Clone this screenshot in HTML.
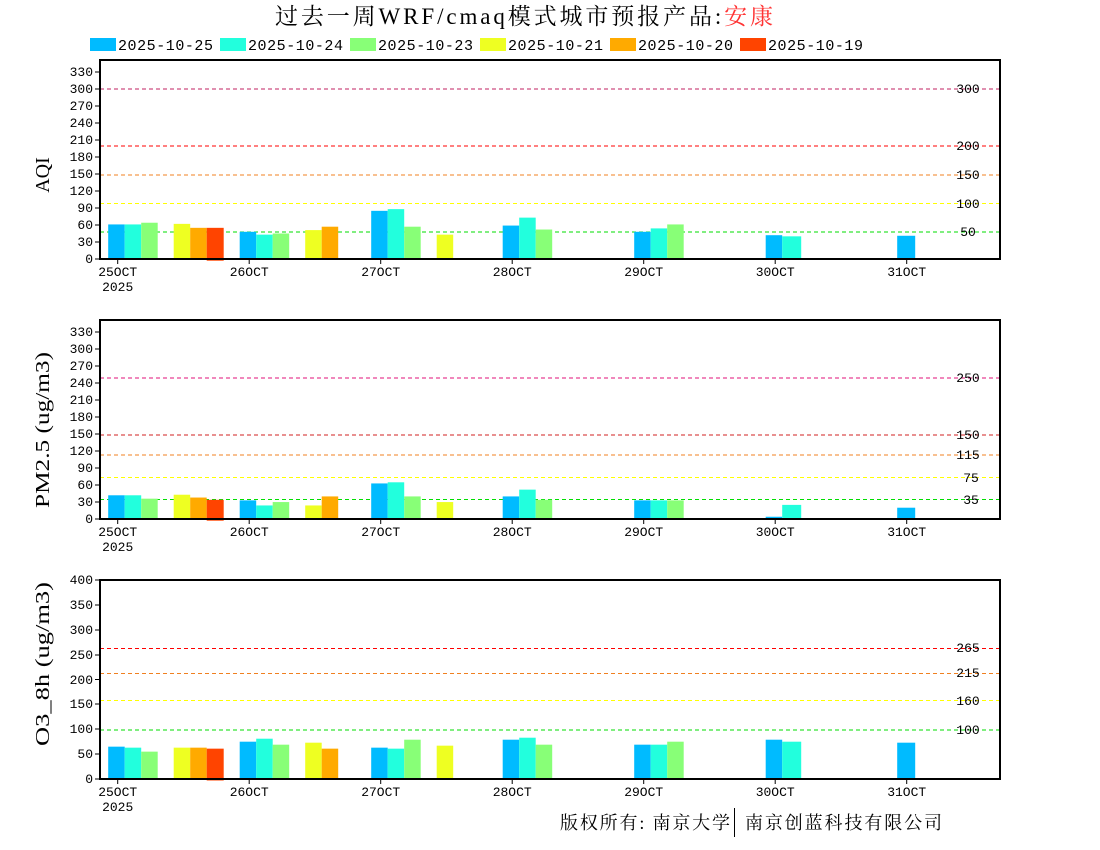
<!DOCTYPE html>
<html><head><meta charset="utf-8"><style>
html,body{margin:0;padding:0;background:#fff;width:1100px;height:850px;overflow:hidden}
svg{display:block}
.t{font-family:"Liberation Mono",monospace;font-size:13px;fill:#000}
.yl{font-family:"Liberation Serif",serif;font-size:20px;fill:#000}
.lg{font-family:"Liberation Mono",monospace;font-size:15px;fill:#000}
</style></head><body>
<svg width="1100" height="850" viewBox="0 0 1100 850" xmlns="http://www.w3.org/2000/svg">
<text x="275" y="24" textLength="498" lengthAdjust="spacing" font-family="Liberation Serif, Noto Serif CJK SC, serif" font-size="23" fill="#000">过去一周WRF/cmaq模式城市预报产品:<tspan fill="#ff3333">安康</tspan></text>
<g class="lg">
<rect x="90" y="38" width="26" height="13" fill="#00bbff"/><text x="118" y="50" textLength="95">2025-10-25</text>
<rect x="220" y="38" width="26" height="13" fill="#22ffdd"/><text x="248" y="50" textLength="95">2025-10-24</text>
<rect x="350" y="38" width="26" height="13" fill="#88ff77"/><text x="378" y="50" textLength="95">2025-10-23</text>
<rect x="480" y="38" width="26" height="13" fill="#eeff22"/><text x="508" y="50" textLength="95">2025-10-21</text>
<rect x="610" y="38" width="26" height="13" fill="#ffaa00"/><text x="638" y="50" textLength="95">2025-10-20</text>
<rect x="740" y="38" width="26" height="13" fill="#ff4400"/><text x="768" y="50" textLength="95">2025-10-19</text>
</g>

<!-- Panel 1 AQI -->
<g>
<g stroke-dasharray="4,3" stroke-width="1">
<line x1="100" x2="1000" y1="89" y2="89" stroke="#c02060"/>
<line x1="100" x2="1000" y1="146" y2="146" stroke="#ff0000"/>
<line x1="100" x2="1000" y1="175" y2="175" stroke="#f08020"/>
<line x1="100" x2="1000" y1="203.5" y2="203.5" stroke="#ffff00"/>
<line x1="100" x2="1000" y1="232" y2="232" stroke="#00dd00"/>
</g>
<g transform="translate(0,259) scale(1,-0.5667)">
<g transform="translate(117.7,0)"><rect x="-9.5" width="16.5" height="61" fill="#00bbff"/><rect x="7" width="16.5" height="61" fill="#22ffdd"/><rect x="23.5" width="16.5" height="64" fill="#88ff77"/><rect x="56" width="16.5" height="62" fill="#eeff22"/><rect x="72.5" width="16.5" height="55" fill="#ffaa00"/><rect x="89" y="-3" width="17" height="58" fill="#ff4400"/></g>
<g transform="translate(249.2,0)"><rect x="-9.5" width="16.5" height="48" fill="#00bbff"/><rect x="7" width="16.5" height="43" fill="#22ffdd"/><rect x="23.5" width="16.5" height="45" fill="#88ff77"/><rect x="56" width="16.5" height="51" fill="#eeff22"/><rect x="72.5" width="16.5" height="57" fill="#ffaa00"/></g>
<g transform="translate(380.7,0)"><rect x="-9.5" width="16.5" height="85" fill="#00bbff"/><rect x="7" width="16.5" height="88" fill="#22ffdd"/><rect x="23.5" width="16.5" height="57" fill="#88ff77"/><rect x="56" width="16.5" height="43" fill="#eeff22"/></g>
<g transform="translate(512.2,0)"><rect x="-9.5" width="16.5" height="59" fill="#00bbff"/><rect x="7" width="16.5" height="73" fill="#22ffdd"/><rect x="23.5" width="16.5" height="52" fill="#88ff77"/></g>
<g transform="translate(643.7,0)"><rect x="-9.5" width="16.5" height="48" fill="#00bbff"/><rect x="7" width="16.5" height="54" fill="#22ffdd"/><rect x="23.5" width="16.5" height="61" fill="#88ff77"/></g>
<g transform="translate(775.2,0)"><rect x="-9.5" width="16.5" height="42" fill="#00bbff"/><rect x="7" width="19" height="40" fill="#22ffdd"/></g>
<g transform="translate(906.7,0)"><rect x="-9.5" width="18" height="41" fill="#00bbff"/></g>
</g>
<g class="t" text-anchor="middle">
<text x="968" y="93">300</text><text x="968" y="150">200</text><text x="968" y="179">150</text><text x="968" y="208">100</text><text x="968" y="236">50</text>
</g>
<rect x="100" y="60" width="900" height="199" fill="none" stroke="#000" stroke-width="2"/>
<g stroke="#000" stroke-width="1">
<line x1="95" x2="100" y1="259" y2="259"/><line x1="95" x2="100" y1="242" y2="242"/><line x1="95" x2="100" y1="225" y2="225"/><line x1="95" x2="100" y1="208" y2="208"/><line x1="95" x2="100" y1="191" y2="191"/><line x1="95" x2="100" y1="174" y2="174"/><line x1="95" x2="100" y1="157" y2="157"/><line x1="95" x2="100" y1="140" y2="140"/><line x1="95" x2="100" y1="123" y2="123"/><line x1="95" x2="100" y1="106" y2="106"/><line x1="95" x2="100" y1="89" y2="89"/><line x1="95" x2="100" y1="72" y2="72"/>
<line x1="117.7" x2="117.7" y1="259" y2="264"/><line x1="249.2" x2="249.2" y1="259" y2="264"/><line x1="380.7" x2="380.7" y1="259" y2="264"/><line x1="512.2" x2="512.2" y1="259" y2="264"/><line x1="643.7" x2="643.7" y1="259" y2="264"/><line x1="775.2" x2="775.2" y1="259" y2="264"/><line x1="906.7" x2="906.7" y1="259" y2="264"/>
</g>
<g class="t" text-anchor="end">
<text x="93" y="263">0</text><text x="93" y="246">30</text><text x="93" y="229">60</text><text x="93" y="212">90</text><text x="93" y="195">120</text><text x="93" y="178">150</text><text x="93" y="161">180</text><text x="93" y="144">210</text><text x="93" y="127">240</text><text x="93" y="110">270</text><text x="93" y="93">300</text><text x="93" y="76">330</text>
</g>
<g class="t" text-anchor="middle">
<text x="117.7" y="276">25OCT</text><text x="117.7" y="291">2025</text><text x="249.2" y="276">26OCT</text><text x="380.7" y="276">27OCT</text><text x="512.2" y="276">28OCT</text><text x="643.7" y="276">29OCT</text><text x="775.2" y="276">30OCT</text><text x="906.7" y="276">31OCT</text>
</g>
<text class="yl" transform="translate(49,175) rotate(-90)" text-anchor="middle">AQI</text>
</g>

<!-- Panel 2 PM2.5 -->
<g>
<g stroke-dasharray="4,3" stroke-width="1">
<line x1="100" x2="1000" y1="378" y2="378" stroke="#e0107a"/>
<line x1="100" x2="1000" y1="435" y2="435" stroke="#d02020"/>
<line x1="100" x2="1000" y1="455" y2="455" stroke="#f08020"/>
<line x1="100" x2="1000" y1="477.5" y2="477.5" stroke="#ffff00"/>
<line x1="100" x2="1000" y1="499.5" y2="499.5" stroke="#00dd00"/>
</g>
<g transform="translate(0,519) scale(1,-0.5646)">
<g transform="translate(117.7,0)"><rect x="-9.5" width="16.5" height="42" fill="#00bbff"/><rect x="7" width="16.5" height="42" fill="#22ffdd"/><rect x="23.5" width="16.5" height="36" fill="#88ff77"/><rect x="56" width="16.5" height="43" fill="#eeff22"/><rect x="72.5" width="16.5" height="38" fill="#ffaa00"/><rect x="89" y="-3" width="17" height="37" fill="#ff4400"/></g>
<g transform="translate(249.2,0)"><rect x="-9.5" width="16.5" height="33" fill="#00bbff"/><rect x="7" width="16.5" height="24" fill="#22ffdd"/><rect x="23.5" width="16.5" height="30" fill="#88ff77"/><rect x="56" width="16.5" height="24" fill="#eeff22"/><rect x="72.5" width="16.5" height="40" fill="#ffaa00"/></g>
<g transform="translate(380.7,0)"><rect x="-9.5" width="16.5" height="63" fill="#00bbff"/><rect x="7" width="16.5" height="65" fill="#22ffdd"/><rect x="23.5" width="16.5" height="40" fill="#88ff77"/><rect x="56" width="16.5" height="30" fill="#eeff22"/></g>
<g transform="translate(512.2,0)"><rect x="-9.5" width="16.5" height="40" fill="#00bbff"/><rect x="7" width="16.5" height="52" fill="#22ffdd"/><rect x="23.5" width="16.5" height="34" fill="#88ff77"/></g>
<g transform="translate(643.7,0)"><rect x="-9.5" width="16.5" height="33" fill="#00bbff"/><rect x="7" width="16.5" height="33" fill="#22ffdd"/><rect x="23.5" width="16.5" height="33" fill="#88ff77"/></g>
<g transform="translate(775.2,0)"><rect x="-9.5" width="16.5" height="4" fill="#00bbff"/><rect x="7" width="19" height="25" fill="#22ffdd"/></g>
<g transform="translate(906.7,0)"><rect x="-9.5" width="18" height="20" fill="#00bbff"/></g>
</g>
<g class="t" text-anchor="middle">
<text x="968" y="382">250</text><text x="968" y="439">150</text><text x="968" y="459">115</text><text x="971" y="482">75</text><text x="971" y="504">35</text>
</g>
<rect x="100" y="320" width="900" height="199" fill="none" stroke="#000" stroke-width="2"/>
<g stroke="#000" stroke-width="1">
<line x1="95" x2="100" y1="519" y2="519"/><line x1="95" x2="100" y1="502" y2="502"/><line x1="95" x2="100" y1="485" y2="485"/><line x1="95" x2="100" y1="468" y2="468"/><line x1="95" x2="100" y1="451" y2="451"/><line x1="95" x2="100" y1="434" y2="434"/><line x1="95" x2="100" y1="417" y2="417"/><line x1="95" x2="100" y1="400" y2="400"/><line x1="95" x2="100" y1="383" y2="383"/><line x1="95" x2="100" y1="366" y2="366"/><line x1="95" x2="100" y1="349" y2="349"/><line x1="95" x2="100" y1="332" y2="332"/>
<line x1="117.7" x2="117.7" y1="519" y2="524"/><line x1="249.2" x2="249.2" y1="519" y2="524"/><line x1="380.7" x2="380.7" y1="519" y2="524"/><line x1="512.2" x2="512.2" y1="519" y2="524"/><line x1="643.7" x2="643.7" y1="519" y2="524"/><line x1="775.2" x2="775.2" y1="519" y2="524"/><line x1="906.7" x2="906.7" y1="519" y2="524"/>
</g>
<g class="t" text-anchor="end">
<text x="93" y="523">0</text><text x="93" y="506">30</text><text x="93" y="489">60</text><text x="93" y="472">90</text><text x="93" y="455">120</text><text x="93" y="438">150</text><text x="93" y="421">180</text><text x="93" y="404">210</text><text x="93" y="387">240</text><text x="93" y="370">270</text><text x="93" y="353">300</text><text x="93" y="336">330</text>
</g>
<g class="t" text-anchor="middle">
<text x="117.7" y="536">25OCT</text><text x="117.7" y="551">2025</text><text x="249.2" y="536">26OCT</text><text x="380.7" y="536">27OCT</text><text x="512.2" y="536">28OCT</text><text x="643.7" y="536">29OCT</text><text x="775.2" y="536">30OCT</text><text x="906.7" y="536">31OCT</text>
</g>
<text class="yl" transform="translate(49,508) rotate(-90)" textLength="156" lengthAdjust="spacingAndGlyphs">PM2.5 (ug/m3)</text>
</g>

<!-- Panel 3 O3 -->
<g>
<g stroke-dasharray="4,3" stroke-width="1">
<line x1="100" x2="1000" y1="648.5" y2="648.5" stroke="#ff0000"/>
<line x1="100" x2="1000" y1="673.5" y2="673.5" stroke="#f08020"/>
<line x1="100" x2="1000" y1="700.5" y2="700.5" stroke="#ffff00"/>
<line x1="100" x2="1000" y1="730" y2="730" stroke="#00dd00"/>
</g>
<g transform="translate(0,779) scale(1,-0.4975)">
<g transform="translate(117.7,0)"><rect x="-9.5" width="16.5" height="65" fill="#00bbff"/><rect x="7" width="16.5" height="63" fill="#22ffdd"/><rect x="23.5" width="16.5" height="55" fill="#88ff77"/><rect x="56" width="16.5" height="63" fill="#eeff22"/><rect x="72.5" width="16.5" height="63" fill="#ffaa00"/><rect x="89" y="-3" width="17" height="64" fill="#ff4400"/></g>
<g transform="translate(249.2,0)"><rect x="-9.5" width="16.5" height="75" fill="#00bbff"/><rect x="7" width="16.5" height="81" fill="#22ffdd"/><rect x="23.5" width="16.5" height="69" fill="#88ff77"/><rect x="56" width="16.5" height="73" fill="#eeff22"/><rect x="72.5" width="16.5" height="61" fill="#ffaa00"/></g>
<g transform="translate(380.7,0)"><rect x="-9.5" width="16.5" height="63" fill="#00bbff"/><rect x="7" width="16.5" height="61" fill="#22ffdd"/><rect x="23.5" width="16.5" height="79" fill="#88ff77"/><rect x="56" width="16.5" height="67" fill="#eeff22"/></g>
<g transform="translate(512.2,0)"><rect x="-9.5" width="16.5" height="79" fill="#00bbff"/><rect x="7" width="16.5" height="83" fill="#22ffdd"/><rect x="23.5" width="16.5" height="69" fill="#88ff77"/></g>
<g transform="translate(643.7,0)"><rect x="-9.5" width="16.5" height="69" fill="#00bbff"/><rect x="7" width="16.5" height="69" fill="#22ffdd"/><rect x="23.5" width="16.5" height="75" fill="#88ff77"/></g>
<g transform="translate(775.2,0)"><rect x="-9.5" width="16.5" height="79" fill="#00bbff"/><rect x="7" width="19" height="75" fill="#22ffdd"/></g>
<g transform="translate(906.7,0)"><rect x="-9.5" width="18" height="73" fill="#00bbff"/></g>
</g>
<g class="t" text-anchor="middle">
<text x="968" y="652">265</text><text x="968" y="677">215</text><text x="968" y="705">160</text><text x="968" y="734">100</text>
</g>
<rect x="100" y="580" width="900" height="199" fill="none" stroke="#000" stroke-width="2"/>
<g stroke="#000" stroke-width="1">
<line x1="95" x2="100" y1="779" y2="779"/><line x1="95" x2="100" y1="754" y2="754"/><line x1="95" x2="100" y1="729" y2="729"/><line x1="95" x2="100" y1="704" y2="704"/><line x1="95" x2="100" y1="679.5" y2="679.5"/><line x1="95" x2="100" y1="655" y2="655"/><line x1="95" x2="100" y1="630" y2="630"/><line x1="95" x2="100" y1="605" y2="605"/><line x1="95" x2="100" y1="580" y2="580"/>
<line x1="117.7" x2="117.7" y1="779" y2="784"/><line x1="249.2" x2="249.2" y1="779" y2="784"/><line x1="380.7" x2="380.7" y1="779" y2="784"/><line x1="512.2" x2="512.2" y1="779" y2="784"/><line x1="643.7" x2="643.7" y1="779" y2="784"/><line x1="775.2" x2="775.2" y1="779" y2="784"/><line x1="906.7" x2="906.7" y1="779" y2="784"/>
</g>
<g class="t" text-anchor="end">
<text x="93" y="783">0</text><text x="93" y="758">50</text><text x="93" y="708">150</text><text x="93" y="733">100</text><text x="93" y="684">200</text><text x="93" y="659">250</text><text x="93" y="634">300</text><text x="93" y="609">350</text><text x="93" y="584">400</text>
</g>
<g class="t" text-anchor="middle">
<text x="117.7" y="796">25OCT</text><text x="117.7" y="811">2025</text><text x="249.2" y="796">26OCT</text><text x="380.7" y="796">27OCT</text><text x="512.2" y="796">28OCT</text><text x="643.7" y="796">29OCT</text><text x="775.2" y="796">30OCT</text><text x="906.7" y="796">31OCT</text>
</g>
<text class="yl" transform="translate(49,746) rotate(-90)" textLength="164" lengthAdjust="spacingAndGlyphs">O3_8h (ug/m3)</text>
</g>

<text x="560" y="829" textLength="170" lengthAdjust="spacing" font-family="Liberation Serif, Noto Serif CJK SC, serif" font-size="18" fill="#000">版权所有: 南京大学</text>
<line x1="734.5" x2="734.5" y1="808" y2="837" stroke="#000" stroke-width="1"/>
<text x="745" y="829" textLength="197" lengthAdjust="spacing" font-family="Liberation Serif, Noto Serif CJK SC, serif" font-size="18" fill="#000">南京创蓝科技有限公司</text>
</svg>
</body></html>
